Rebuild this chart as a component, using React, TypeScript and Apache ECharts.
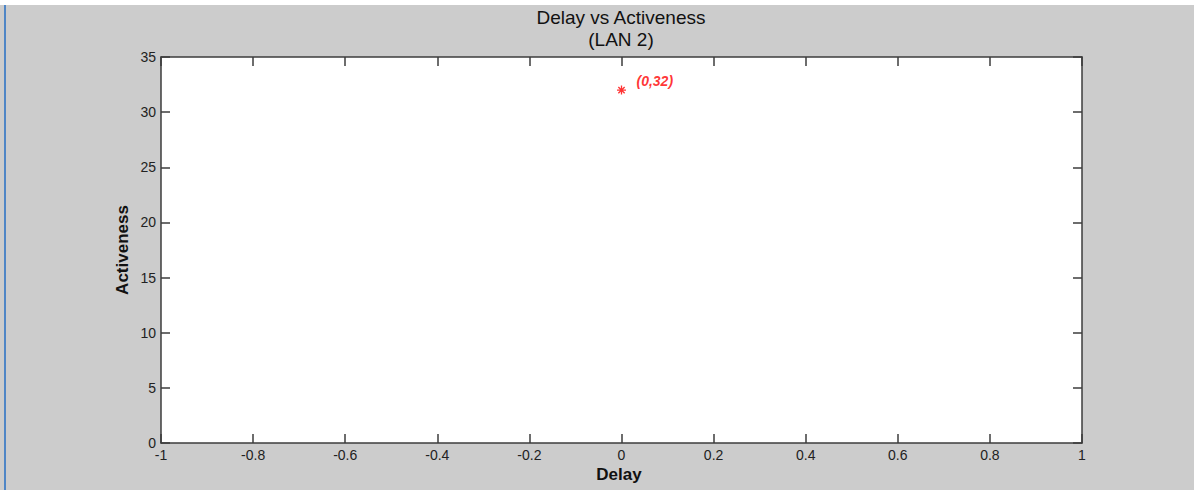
import React, { useEffect, useRef } from "react";
import * as echarts from "echarts";

const titleLines = ["Delay vs Activeness", "(LAN 2)"];
const xName = "Delay";
const yName = "Activeness";
const xRange = [-1, 1];
const xStep = 0.2;
const yRange = [0, 35];
const yStep = 5;
const points: [number, number][] = [[0, 32]];
const pointLabels = ["(0,32)"];

const FONT = "Arial, 'Liberation Sans', sans-serif";
const FRAME = "#3c3c3c";

const fmt = (v: number) => {
  const r = Math.round(v * 100) / 100;
  return String(r);
};

export default function App() {
  const ref = useRef<HTMLDivElement>(null);
  useEffect(() => {
    if (!ref.current) return;
    const chart = echarts.init(ref.current, undefined, { renderer: "svg" });
    const axisCommon = {
      axisLine: { show: true, onZero: false, lineStyle: { color: FRAME, width: 1.5 } },
      axisTick: { show: true, inside: true, length: 9, lineStyle: { color: FRAME, width: 1.5 } },
      splitLine: { show: false },
    };
    const nameStyle = { fontFamily: FONT, fontSize: 17, fontWeight: "bold", fill: "#111", align: "center", verticalAlign: "middle" };
    chart.setOption({
      animation: false,
      backgroundColor: "#cccccc",
      title: {
        text: titleLines.join("\n"),
        left: 621,
        top: 6,
        padding: 0,
        textAlign: "center",
        textStyle: { fontFamily: FONT, fontSize: 19, fontWeight: "normal", color: "#111", lineHeight: 22 },
      },
      graphic: [
        { type: "rect", shape: { x: 0, y: 0, width: 1194, height: 5 }, style: { fill: "#ffffff" }, silent: true },
        { type: "rect", shape: { x: 4, y: 5, width: 2, height: 485 }, style: { fill: "#4f86c6" }, silent: true },
        { type: "text", x: 619, y: 474, style: { text: xName, ...nameStyle }, silent: true },
        { type: "text", x: 122, y: 250, rotation: Math.PI / 2, style: { text: yName, ...nameStyle }, silent: true },
      ],
      grid: {
        left: 161,
        top: 57,
        width: 921,
        height: 386,
        show: true,
        backgroundColor: "#ffffff",
        borderWidth: 0,
        outerBoundsMode: "none",
        containLabel: false,
      },
      xAxis: [
        {
          type: "value",
          position: "bottom",
          min: xRange[0],
          max: xRange[1],
          interval: xStep,
          axisLabel: { fontFamily: FONT, fontSize: 14, color: "#222", margin: 5, formatter: fmt },
          ...axisCommon,
        },
        {
          type: "value",
          position: "top",
          min: xRange[0],
          max: xRange[1],
          interval: xStep,
          axisLabel: { show: false },
          ...axisCommon,
        },
      ],
      yAxis: [
        {
          type: "value",
          position: "left",
          min: yRange[0],
          max: yRange[1],
          interval: yStep,
          axisLabel: { fontFamily: FONT, fontSize: 14, color: "#222", margin: 5, formatter: fmt },
          ...axisCommon,
        },
        {
          type: "value",
          position: "right",
          min: yRange[0],
          max: yRange[1],
          interval: yStep,
          axisLabel: { show: false },
          ...axisCommon,
        },
      ],
      series: [
        {
          type: "scatter",
          xAxisIndex: 0,
          yAxisIndex: 0,
          data: points.map((p, i) => ({ value: p, label: { formatter: pointLabels[i] } })),
          symbol: "path://M0,-5L0,5M-5,0L5,0M-3.5,-3.5L3.5,3.5M-3.5,3.5L3.5,-3.5",
          symbolSize: 9,
          itemStyle: { color: "none", borderColor: "#ff0000", borderWidth: 1.3 },
          label: {
            show: true,
            position: "right",
            distance: 8,
            offset: [0, -9],
            fontFamily: FONT,
            fontSize: 14,
            fontWeight: "bold",
            fontStyle: "italic",
            color: "#ff0000",
          },
        },
      ],
    });
    return () => chart.dispose();
  }, []);
  return (
    <div
      ref={ref}
      style={{ position: "fixed", left: 0, top: 0, width: 1194, height: 490 }}
    />
  );
}
